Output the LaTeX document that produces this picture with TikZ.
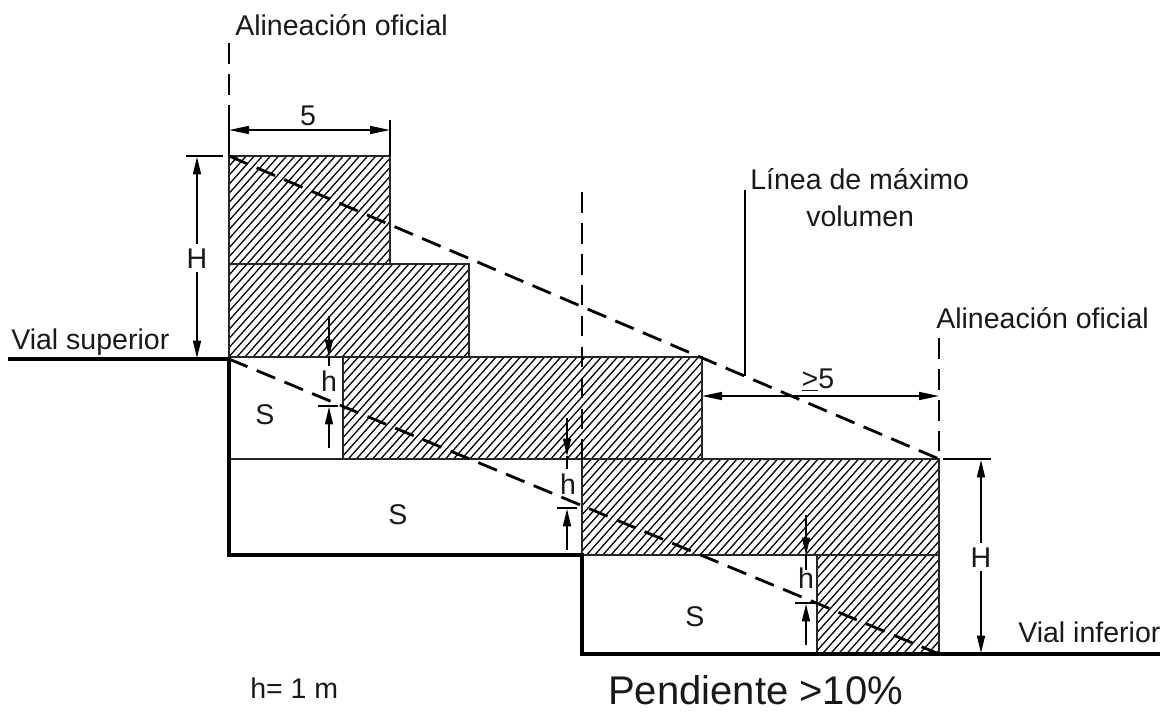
\documentclass[tikz,border=0pt]{standalone}
\usepackage{fontspec}
\setmainfont{Liberation Sans}
\usetikzlibrary{arrows.meta}
\newcommand{\hatchrect}[4]{%
  \begin{scope}
    \clip (#1,#2) rectangle (#3,#4);
    \foreach \k in {0,...,170}{
      \draw[hatchline] ({220+\k*8.1},140) -- ++({-600/1.12},600);
    }
  \end{scope}
  \draw[thinedge] (#1,#2) rectangle (#3,#4);
}
\tikzset{
  x=0.75pt,y=-0.75pt,
  hatchline/.style={line width=0.95pt,black},
  thinedge/.style={line width=1.2pt,black!85},
  thickwall/.style={line width=3.6pt,black,line join=miter},
  dashline/.style={line width=2.1pt,black,dash pattern=on 15pt off 7.5pt},
  vdash/.style={line width=2pt,black,dash pattern=on 15.5pt off 7.7pt},
  dimline/.style={line width=1.1pt,black},
  dimarrow/.style={dimline,-{Stealth[length=13pt,width=6pt,inset=0pt]}},
  bothdim/.style={dimline,{Stealth[length=15pt,width=6pt,inset=0pt]}-{Stealth[length=15pt,width=6pt,inset=0pt]}},
  lab/.style={inner sep=0pt,font=\fontsize{21.4}{24}\selectfont,text=black!90},
}
\begin{document}
\begin{tikzpicture}
\useasboundingbox (0,0) rectangle (1161,711);
\fill[white] (0,0) rectangle (1161,711);
% named reference points
\coordinate (tl) at (229,156);
\coordinate (tr) at (939,459);
\coordinate (ll) at (229,359);
\coordinate (lr) at (939,654);
% hatched blocks
\hatchrect{229}{156}{390}{264}
\hatchrect{229}{264}{469}{357}
\hatchrect{343}{357}{702}{459}
\hatchrect{582}{459}{939}{555}
\hatchrect{817}{555}{939}{654}
\draw[thinedge] (229,459) -- (582,459);
% ground
\draw[thickwall] (8,359) -- (229,359) -- (229,555) -- (582,555) -- (582,654) -- (1160,654);
% max volume lines
\draw[dashline] (tl) -- (tr);
\draw[dashline] (ll) -- (lr);
% vertical alignments
\draw[vdash] (229,43) -- (229,105);
\draw[line width=1.6pt] (229,105) -- (tl);
\draw[vdash] (582,192) -- (582,459);
\draw[vdash] (939,338) -- (tr);
% dimension 5
\coordinate (d5a) at (229,130);
\coordinate (d5b) at (390,130);
\draw[dimline] (390,120) -- (390,156);
\draw[bothdim] (d5a) -- (d5b);
\node[lab,anchor=base] (five) at (308,125) {5};
% left H
\draw[dimline] (186,156) -- (223,156);
\node[lab,anchor=base] (hleft) at (197,268) {H};
\draw[dimarrow] (hleft.north) ++(0,-4) -- (197,157);
\draw[dimarrow] (hleft.south) ++(0,4) -- (197,358);
% right H
\draw[dimline] (943,459) -- (991,459);
\node[lab,anchor=base] (hright) at (981,567) {H};
\draw[dimarrow] (hright.north) ++(0,-4) -- (981,460);
\draw[dimarrow] (hright.south) ++(0,4) -- (981,653);
% h marks
\draw[dimarrow] (329,316) -- (329,357);
\draw[dimline] (329,357) -- (329,366);
\node[lab,anchor=base] (h1) at (329,391) {h};
\draw[dimline] (318,406) -- (338,406);
\draw[dimarrow] (329,448) -- (329,407);
\draw[dimarrow] (567,418) -- (567,456);
\draw[dimline] (567,456) -- (567,469);
\node[lab,anchor=base] (h2) at (568,494) {h};
\draw[dimline] (557,508) -- (577,508);
\draw[dimarrow] (567,550) -- (567,509);
\draw[dimarrow] (806,515) -- (806,555);
\draw[dimline] (806,555) -- (806,570);
\node[lab,anchor=base] (h3) at (806,588) {h};
\draw[dimline] (795,603) -- (818,603);
\draw[dimarrow] (806,645) -- (806,604);
% >=5
\draw[bothdim] (702,396) -- (939,396);
\node[lab,anchor=base] (ge) at (818,388) {\underline{>}5};
% leader
\coordinate (ldtop) at (745,190);
\coordinate (ldbot) at (745,376);
\draw[line width=1.2pt] (ldtop) -- (ldbot);
% labels
\node[lab,anchor=base west] (al1) at (235,35) {Alineación oficial};
\node[lab,anchor=base west] (al2) at (936,328) {Alineación oficial};
\node[lab,anchor=base west] (lin) at (750,189) {Línea de máximo};
\node[lab,anchor=base west] (vol) at (806,226) {volumen};
\node[lab,anchor=base west] (vs) at (11,349) {Vial superior};
\node[lab,anchor=base west] (vi) at (1018,642) {Vial inferior};
\node[lab,anchor=center] (s1) at (265,415) {S};
\node[lab,anchor=center] (s2) at (398,515) {S};
\node[lab,anchor=center] (s3) at (695,617) {S};
\node[lab,anchor=base west] (hm) at (250,698) {h= 1 m};
\node[lab,anchor=base west,font=\fontsize{30}{32}\selectfont] (pend) at (608,704) {Pendiente >10\%};
\end{tikzpicture}
\end{document}
